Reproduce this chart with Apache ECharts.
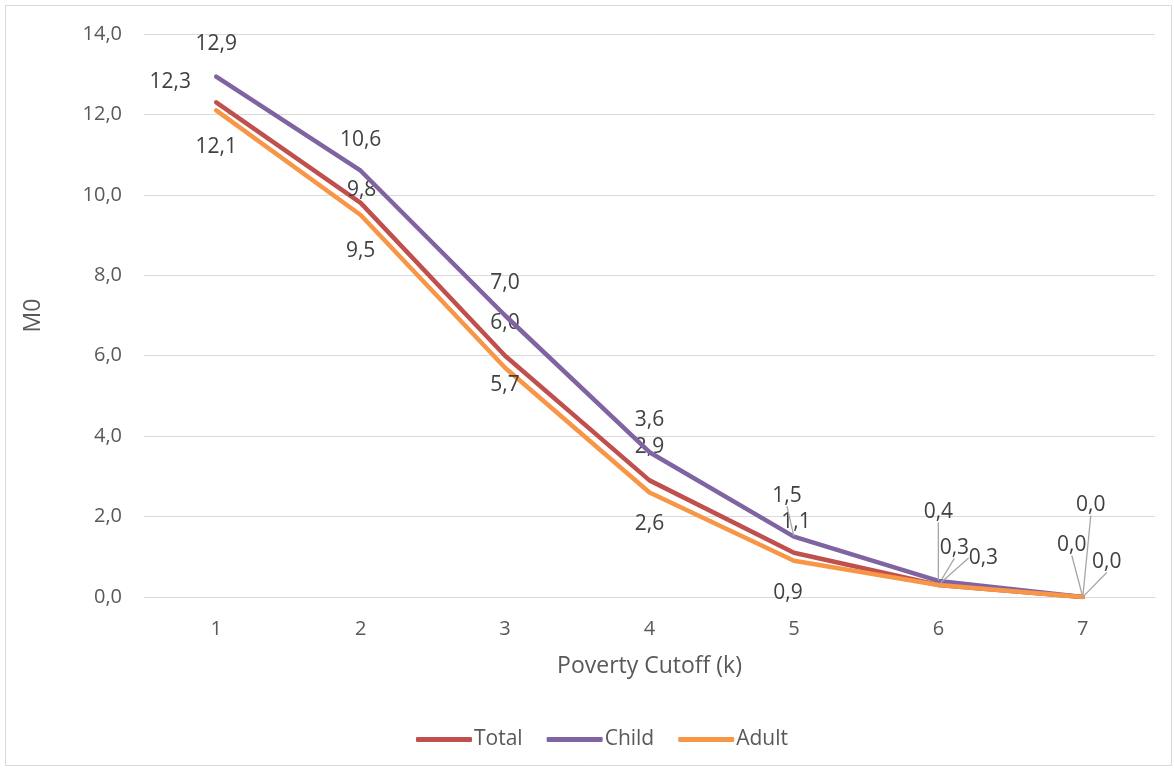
<!DOCTYPE html>
<html><head><meta charset="utf-8">
<script src="https://cdn.jsdelivr.net/npm/echarts@6/dist/echarts.min.js"></script>
<style>html,body{margin:0;padding:0;background:#fff}#c{width:1174px;height:771px}</style>
</head><body><div id="c"></div>
<script>
const categories = ['1','2','3','4','5','6','7'];
const totalValues = [12.3, 9.8, 6.0, 2.9, 1.1, 0.3, 0.0];
const childValues = [12.94, 10.6, 7.0, 3.6, 1.5, 0.4, 0.0];
const adultValues = [12.1, 9.5, 5.7, 2.6, 0.9, 0.3, 0.0];
const seriesNames = ['Total', 'Child', 'Adult'];

// label layout (pixel offsets from the point) — styling only
const labelOffsets = [
  [[-46,-20],[1,-13],[0,-33],[0,-33],[2,-31],[16,-37],[-11,-52]],
  [[0,-33],[0,-31],[0,-32],[0,-32],[-7,-41],[0,-69],[8,-92]],
  [[0,37],[0,36],[0,17],[0,32],[-6,32],[45,-27],[24,-35]]
];
const leaderShown = [
  [false,false,false,false,false,true,true],
  [false,false,false,false,true,true,true],
  [false,false,false,false,false,true,true]
];
const colors = ['#C0504D', '#8064A2', '#F79646'];
const FONT = 'Open Sans';
const fmt = v => v.toFixed(1).replace('.', ',');

function makeSeries(idx, values) {
  return {
    name: seriesNames[idx],
    type: 'line',
    data: values.map((v, i) => ({
      value: v,
      labelLine: { show: leaderShown[idx][i] }
    })),
    symbol: 'circle',
    symbolSize: 1,
    showSymbol: true,
    lineStyle: { width: 4.5, color: colors[idx], cap: 'round', join: 'round' },
    itemStyle: { color: colors[idx] },
    emphasis: { disabled: true },
    label: {
      show: true,
      position: 'inside',
      formatter: p => fmt(p.value),
      color: '#404040',
      fontFamily: FONT,
      fontSize: 21
    },
    labelLine: { show: false, lineStyle: { color: '#A6A6A6', width: 1.3 } },
    labelLayout: p => {
      const o = labelOffsets[idx][p.dataIndex];
      return { dx: o[0], dy: o[1] };
    },
    z: 2 + idx
  };
}

const chart = echarts.init(document.getElementById('c'), null, { renderer: 'canvas' });
chart.setOption({
  animation: false,
  backgroundColor: '#fff',
  textStyle: { fontFamily: FONT },
  graphic: [{
    type: 'rect', shape: { x: 5.5, y: 5.5, width: 1166, height: 760 },
    style: { fill: 'none', stroke: '#D9D9D9', lineWidth: 1 }, silent: true
  }],
  grid: { left: 144, right: 19, top: 34, bottom: 174, containLabel: false },
  xAxis: {
    type: 'category',
    data: categories,
    boundaryGap: true,
    name: 'Poverty Cutoff (k)',
    nameLocation: 'middle',
    nameGap: 58,
    nameTextStyle: { color: '#595959', fontSize: 23, fontFamily: FONT },
    axisLine: { show: true, lineStyle: { color: '#D9D9D9', width: 1 } },
    axisTick: { show: false },
    axisLabel: { color: '#595959', fontSize: 20, fontFamily: FONT, margin: 22 }
  },
  yAxis: {
    type: 'value',
    min: 0, max: 14, interval: 2,
    name: 'M0',
    nameLocation: 'middle',
    nameGap: 99,
    nameRotate: 90,
    nameTextStyle: { color: '#595959', fontSize: 23, fontFamily: FONT },
    axisLine: { show: false },
    axisTick: { show: false },
    splitLine: { lineStyle: { color: '#D9D9D9', width: 1 } },
    axisLabel: { color: '#595959', fontSize: 20, fontFamily: FONT, margin: 22, formatter: v => fmt(v) }
  },
  legend: {
    bottom: 16,
    left: 411,
    itemWidth: 56,
    itemHeight: 5,
    itemGap: 24,
    icon: 'roundRect',
    textStyle: { color: '#595959', fontSize: 21, fontFamily: FONT, padding: [0, 0, 0, -3] },
    data: seriesNames
  },
  series: [makeSeries(0, totalValues), makeSeries(1, childValues), makeSeries(2, adultValues)]
});
</script>
</body></html>
